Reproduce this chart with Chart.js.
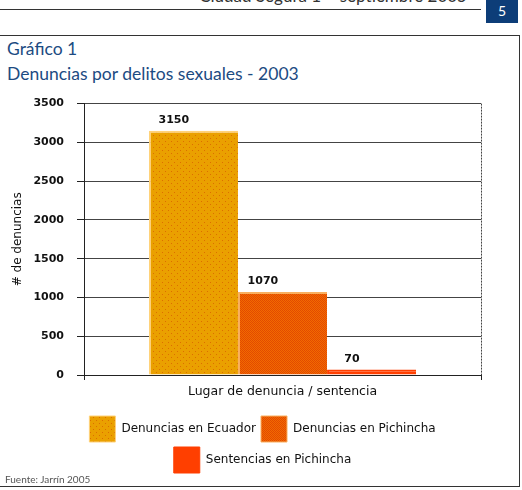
<!DOCTYPE html>
<html lang="es">
<head>
    <meta charset="UTF-8">
    <title>Denuncias por delitos sexuales - 2003</title>
    <script src="https://cdn.jsdelivr.net/npm/chart.js"></script>
    <style>
        body {
            margin: 0;
            width: 522px;
            height: 490px;
            position: relative;
            overflow: hidden;
            background: #fff;
            font-family: Lato, "Open Sans", sans-serif;
        }
        .cabecera {
            position: absolute;
            right: 55px;
            top: -15px;
            font-size: 17px;
            color: #333;
            white-space: nowrap;
        }
        .linea-cab {
            position: absolute;
            left: 0;
            top: 9px;
            width: 481px;
            border-top: 1px solid #333;
        }
        .pagina {
            position: absolute;
            left: 486px;
            top: 0;
            width: 32px;
            height: 23px;
            background: #0d3d78;
            color: #fff;
            font-size: 14px;
            text-align: center;
            line-height: 22px;
        }
        .marco {
            position: absolute;
            left: 0;
            top: 35px;
            width: 519px;
            height: 450px;
            border: 1px solid #333;
            border-left: none;
        }
        .titulo {
            position: absolute;
            left: 7px;
            top: 36px;
            font-size: 17.5px;
            line-height: 25px;
            color: #1c4b82;
        }
        .chart-wrapper {
            position: absolute;
            left: 0;
            top: 84px;
            width: 522px;
            height: 399px;
        }
        .fuente {
            position: absolute;
            left: 5px;
            top: 473px;
            font-size: 10px;
            color: #555;
        }
    </style>
</head>
<body>
<div class="cabecera">Ciudad Segura 1 – septiembre 2005</div>
<div class="linea-cab"></div>
<div class="pagina">5</div>
<div class="marco"></div>
<div class="titulo">Gráfico 1<br>Denuncias por delitos sexuales - 2003</div>

<div class="chart-wrapper">
    <canvas id="denunciasChart"></canvas>
</div>
<div class="fuente">Fuente: Jarrín 2005</div>

<script>
    // datos del gráfico
    const categorias = [''];
    const series = ['Denuncias en Ecuador', 'Denuncias en Pichincha', 'Sentencias en Pichincha'];
    const valores = [3150, 1070, 70];
    const ticksY = [0, 500, 1000, 1500, 2000, 2500, 3000, 3500];

    // textura punteada de las barras
    function trama(base, punto, paso) {
        const c = document.createElement('canvas');
        c.width = paso;
        c.height = paso;
        const g = c.getContext('2d');
        g.fillStyle = base;
        g.fillRect(0, 0, paso, paso);
        if (punto) {
            g.fillStyle = punto;
            g.fillRect(0, 0, 1, 1);
            g.fillRect(paso / 2, paso / 2, 1, 1);
        }
        return g.createPattern(c, 'repeat');
    }

    const rellenos = [
        trama('#eaa000', '#dc6e00', 6),
        trama('#f26a00', '#e24a00', 2),
        trama('#ff3f00', null, 2)
    ];
    const bordes = ['#ffd27a', '#f9b060', '#ff3f00'];

    const etiquetasValor = {
        id: 'etiquetasValor',
        afterDatasetsDraw(chart) {
            const ctx = chart.ctx;
            ctx.save();
            ctx.font = 'bold 11px "DejaVu Sans"';
            ctx.fillStyle = '#111';
            ctx.textAlign = 'center';
            ctx.textBaseline = 'bottom';
            chart.data.datasets.forEach((ds, i) => {
                const bar = chart.getDatasetMeta(i).data[0];
                ctx.fillText(ds.data[0], bar.x - bar.width * 0.22, bar.y - 5);
            });
            ctx.restore();
        }
    };

    const config = {
        type: 'bar',
        data: {
            labels: categorias,
            datasets: series.map((nombre, i) => ({
                label: nombre,
                data: [valores[i]],
                backgroundColor: rellenos[i],
                borderColor: bordes[i],
                borderWidth: { left: 2, top: 2, right: 0, bottom: 0 },
                barPercentage: 1,
                categoryPercentage: 0.673
            }))
        },
        options: {
            responsive: true,
            maintainAspectRatio: false,
            animation: false,
            layout: {
                padding: { left: 3, right: 0, top: 5, bottom: 0 }
            },
            plugins: {
                legend: {
                    position: 'bottom',
                    labels: {
                        boxWidth: 26,
                        boxHeight: 26,
                        padding: 5,
                        color: '#111',
                        font: { family: 'DejaVu Sans', size: 12 }
                    }
                },
                tooltip: { enabled: false }
            },
            scales: {
                x: {
                    grid: {
                        display: true,
                        color: '#444',
                        tickLength: 5,
                        tickColor: '#222'
                    },
                    border: { display: true, color: '#222', dash: [2, 1] },
                    ticks: { display: false },
                    title: {
                        display: true,
                        text: 'Lugar de denuncia / sentencia',
                        color: '#111',
                        font: { family: 'DejaVu Sans', size: 12.5 },
                        padding: { top: 4, bottom: 12 }
                    }
                },
                y: {
                    min: 0,
                    max: 3500,
                    afterBuildTicks(axis) {
                        axis.ticks = ticksY.map(v => ({ value: v }));
                    },
                    grid: {
                        color: '#444',
                        tickLength: 7,
                        tickColor: '#222'
                    },
                    border: { display: true, color: '#222' },
                    ticks: {
                        color: '#111',
                        padding: 13,
                        font: { family: 'DejaVu Sans', size: 11, weight: 'bold' },
                        callback: v => String(v)
                    },
                    title: {
                        display: true,
                        text: '# de denuncias',
                        color: '#111',
                        font: { family: 'DejaVu Sans', size: 12 },
                        padding: { top: 8, bottom: -5 }
                    }
                },
                // eje derecho vacío: solo reserva el margen a la derecha
                margen: {
                    position: 'right',
                    display: true,
                    grid: { display: false },
                    border: { display: false },
                    ticks: { display: false },
                    afterFit(scale) {
                        scale.width = 41;
                    }
                }
            }
        },
        plugins: [etiquetasValor]
    };

    // líneas punteadas de la rejilla
    config.options.scales.x.grid.borderDash = [2, 1];
    config.options.scales.y.grid.borderDash = [2, 1];

    const ctx = document.getElementById('denunciasChart').getContext('2d');
    const grafico = new Chart(ctx, config);
</script>
</body>
</html>
